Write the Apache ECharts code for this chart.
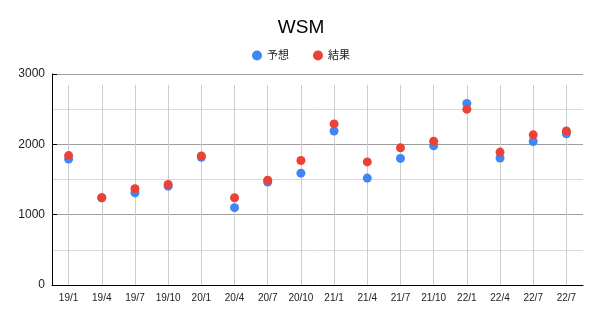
<!DOCTYPE html>
<html>
<head>
<meta charset="utf-8">
<script src="https://cdn.jsdelivr.net/npm/echarts@6/dist/echarts.min.js"></script>
<style>html,body{margin:0;padding:0;background:#fff;}#c{width:602px;height:320px;}</style>
</head>
<body>
<div id="c"></div>
<script>
const categories = ['19/1','19/4','19/7','19/10','20/1','20/4','20/7','20/10','21/1','21/4','21/7','21/10','22/1','22/4','22/7','22/7'];
const forecast = [1790,1240,1310,1405,1815,1100,1465,1590,2190,1520,1800,1980,2580,1805,2040,2150];
const actual   = [1840,1240,1370,1430,1835,1240,1490,1770,2290,1750,1950,2045,2500,1890,2135,2190];
const yTicks = [0,1000,2000,3000];

const chart = echarts.init(document.getElementById('c'), null, {renderer:'canvas'});
const font = 'Arial, "Liberation Sans", "Noto Sans CJK JP", sans-serif';
chart.setOption({
  animation:false,
  backgroundColor:'#fff',
  title:{text:'WSM', left:'center', top:13, textStyle:{fontFamily:font, fontSize:19, fontWeight:'normal', color:'#000'}},
  legend:{top:45, left:'center', itemWidth:10, itemHeight:10, itemGap:24, icon:'circle',
    textStyle:{fontFamily:font, fontSize:11, color:'#222'}, data:['予想','結果']},
  grid:[
    {left:52, right:19, top:74, bottom:35, containLabel:false},
    {left:52, right:19, top:85, bottom:35, containLabel:false}
  ],
  xAxis:[
    {type:'category', gridIndex:0, data:categories, boundaryGap:true,
      axisLine:{lineStyle:{color:'#000', width:1}}, axisTick:{show:false},
      axisLabel:{interval:0, margin:8, fontFamily:font, fontSize:10, color:'#222'}, splitLine:{show:false}},
    {type:'category', gridIndex:1, data:categories, boundaryGap:true,
      axisLine:{show:false}, axisTick:{show:false}, axisLabel:{show:false},
      splitLine:{show:true, alignWithLabel:true, interval:0, lineStyle:{color:'#ccc', width:1}}}
  ],
  yAxis:[
    {type:'value', gridIndex:0, min:yTicks[0], max:yTicks[yTicks.length-1], interval:1000,
      axisLine:{show:true, lineStyle:{color:'#000'}},
      axisTick:{show:true, inside:true, length:5, lineStyle:{color:'#000'}},
      axisLabel:{margin:7, fontFamily:font, fontSize:12, color:'#222', formatter:function(v){return String(v);}},
      splitLine:{show:true, lineStyle:{color:'#9e9e9e'}},
      minorTick:{show:false, splitNumber:2},
      minorSplitLine:{show:true, lineStyle:{color:'#d9d9d9'}}},
    {type:'value', gridIndex:1, min:0, max:3000, show:false, splitLine:{show:false}}
  ],
  series:[
    {name:'予想', type:'scatter', xAxisIndex:0, yAxisIndex:0, data:forecast, symbol:'circle', symbolSize:9,
      itemStyle:{color:'#4285F4', opacity:1}, z:3},
    {name:'結果', type:'scatter', xAxisIndex:0, yAxisIndex:0, data:actual, symbol:'circle', symbolSize:9,
      itemStyle:{color:'#EA4335', opacity:1}, z:4}
  ]
});
</script>
</body>
</html>
